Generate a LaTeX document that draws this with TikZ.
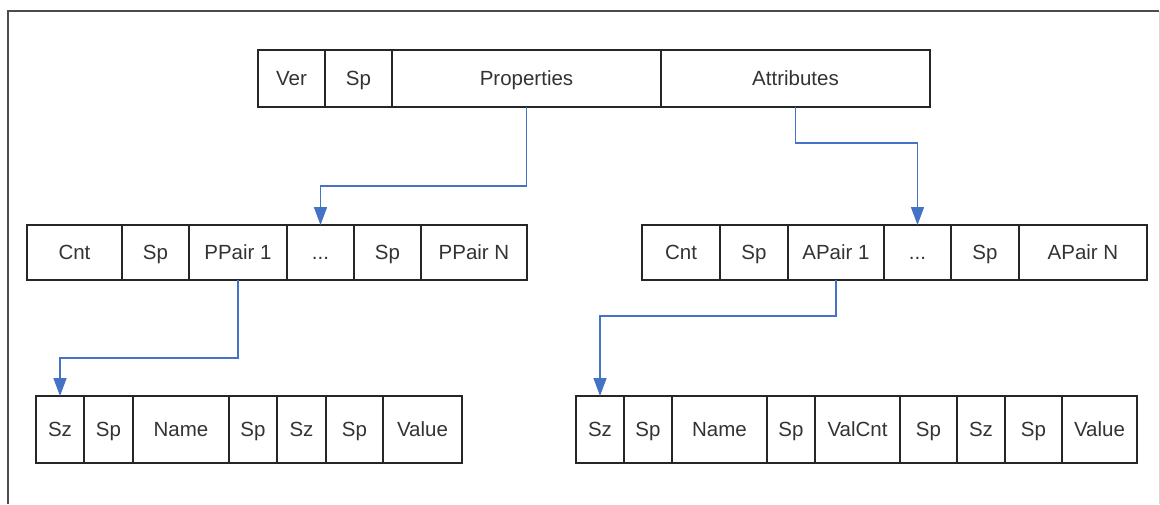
\documentclass[tikz,border=0pt]{standalone}
\usepackage{fontspec}
\setmainfont{Liberation Sans}
\usetikzlibrary{positioning,arrows.meta}
\definecolor{linkblue}{RGB}{68,114,196}
\tikzset{
    cell/.style={draw=black!85, line width=1.3pt, rectangle, inner sep=0pt, outer sep=0pt,
        text=black!80, text height=14.7pt, text depth=0pt, font=\fontsize{20.5}{24}\selectfont},
    toprow/.style={cell, minimum height=57pt},
    midrow/.style={cell, minimum height=55pt},
    lowrow/.style={cell, minimum height=67pt},
    link/.style={draw=linkblue, line width=1.6pt, -{Triangle[width=13pt,length=18pt]}},
}
\begin{document}
\begin{tikzpicture}[x=1pt,y=-1pt]
        \useasboundingbox (0,0) rectangle (1160,504);
        %% Frame
        \draw[black!70, line width=2pt] (8,504) -- (8,11) -- (1159,11);
        \draw[black!15, line width=1pt] (1159,11) -- (1159,504);
        %% Header
        \node[toprow, minimum width=67pt, anchor=north west] (ver) at (258,50) {Ver};
        \node[toprow, minimum width=67pt, right=0pt of ver] (hsp) {Sp};
        \node[toprow, minimum width=269pt, right=0pt of hsp] (prop) {Properties};
        \node[toprow, minimum width=269pt, right=0pt of prop] (attr) {Attributes};
        %% Properties
        \node[midrow, minimum width=95pt, anchor=north west] (pcnt) at (27,225) {Cnt};
        \node[midrow, minimum width=67pt, right=0pt of pcnt] (psp) {Sp};
        \node[midrow, minimum width=98pt, right=0pt of psp] (ppair) {PPair 1};
        \node[midrow, minimum width=67pt, right=0pt of ppair] (pdots) {...};
        \node[midrow, minimum width=67pt, right=0pt of pdots] (psp2) {Sp};
        \node[midrow, minimum width=106pt, right=0pt of psp2] (ppairn) {PPair N};
        %% Attributes
        \node[midrow, minimum width=78pt, anchor=north west] (acnt) at (642,225) {Cnt};
        \node[midrow, minimum width=68pt, right=0pt of acnt] (asp) {Sp};
        \node[midrow, minimum width=96pt, right=0pt of asp] (apair) {APair 1};
        \node[midrow, minimum width=67pt, right=0pt of apair] (adots) {...};
        \node[midrow, minimum width=68pt, right=0pt of adots] (asp2) {Sp};
        \node[midrow, minimum width=128pt, right=0pt of asp2] (apairn) {APair N};
        %% Property pair
        \node[lowrow, minimum width=48pt, anchor=north west] (psz) at (36,396) {Sz};
        \node[lowrow, minimum width=49pt, right=0pt of psz] (pbsp) {Sp};
        \node[lowrow, minimum width=96pt, right=0pt of pbsp] (pname) {Name};
        \node[lowrow, minimum width=48pt, right=0pt of pname] (pbsp2) {Sp};
        \node[lowrow, minimum width=49pt, right=0pt of pbsp2] (psz2) {Sz};
        \node[lowrow, minimum width=57pt, right=0pt of psz2] (pbsp3) {Sp};
        \node[lowrow, minimum width=79pt, right=0pt of pbsp3] (pval) {Value};
        %% Attribute pair
        \node[lowrow, minimum width=48pt, anchor=north west] (asz) at (576,396) {Sz};
        \node[lowrow, minimum width=48pt, right=0pt of asz] (absp) {Sp};
        \node[lowrow, minimum width=95pt, right=0pt of absp] (aname) {Name};
        \node[lowrow, minimum width=48pt, right=0pt of aname] (absp2) {Sp};
        \node[lowrow, minimum width=85pt, right=0pt of absp2] (avcnt) {ValCnt};
        \node[lowrow, minimum width=57pt, right=0pt of avcnt] (absp3) {Sp};
        \node[lowrow, minimum width=48pt, right=0pt of absp3] (asz2) {Sz};
        \node[lowrow, minimum width=57pt, right=0pt of asz2] (absp4) {Sp};
        \node[lowrow, minimum width=75pt, right=0pt of absp4] (aval) {Value};
        %% Links
        \draw[link] (prop.south) -- ++(0,79) -| (pdots.north);
        \draw[link] (attr.south) -- ++(0,36) -| (adots.north);
        \draw[link] (ppair.south) -- ++(0,78) -| (psz.north);
        \draw[link] (apair.south) -- ++(0,36) -| (asz.north);
    \end{tikzpicture}
\end{document}
